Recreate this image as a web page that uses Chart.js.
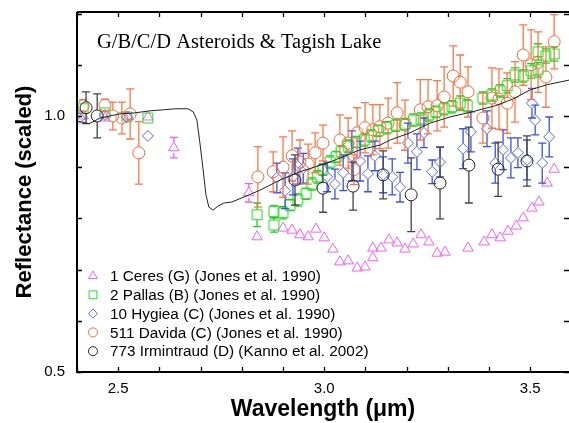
<!DOCTYPE html>
<html>
<head>
<meta charset="utf-8">
<title>G/B/C/D Asteroids & Tagish Lake</title>
<script src="https://cdn.jsdelivr.net/npm/chart.js@4.4.1/dist/chart.umd.min.js"></script>
<style>
    html, body { margin: 0; padding: 0; background: #fff; }
    #chart { display: block; }
</style>
</head>
<body>
<canvas id="chart" width="569" height="423"></canvas>
<script>
// Axis tick labels (only these are printed, other ticks are unlabeled)
const xTickLabels = ['2.5', '3.0', '3.5'];
const yTickLabels = ['0.5', '1.0'];

// Legend text
const legendLabels = [
    '1 Ceres (G) (Jones et al. 1990)',
    '2 Pallas (B) (Jones et al. 1990)',
    '10 Hygiea (C) (Jones et al. 1990)',
    '511 Davida (C) (Jones et al. 1990)',
    '773 Irmintraud (D) (Kanno et al. 2002)'
];

// 1 Ceres
const ceresX = [2.415, 2.468, 2.524, 2.572, 2.635, 2.817, 2.837, 2.900, 2.922, 2.941,
    2.961, 2.980, 3.000, 3.021, 3.038, 3.058, 3.080, 3.099, 3.118, 3.118,
    3.138, 3.157, 3.177, 3.196, 3.216, 3.235, 3.254, 3.274, 3.293, 3.349,
    3.388, 3.407, 3.427, 3.446, 3.466, 3.483, 3.504, 3.521, 3.541, 3.558];
const ceresY = [1.000, 0.996, 0.998, 0.998, 0.938, 0.850, 0.764, 0.781, 0.777, 0.768,
    0.764, 0.779, 0.762, 0.740, 0.715, 0.717, 0.703, 0.705, 0.723, 0.742,
    0.742, 0.758, 0.752, 0.740, 0.750, 0.768, 0.754, 0.732, 0.734, 0.742,
    0.754, 0.768, 0.762, 0.775, 0.785, 0.801, 0.820, 0.832, 0.869, 0.896];
const ceresErr = [0, 0, 0, 0, 0.020, 0.018, 0, 0, 0, 0,
    0, 0, 0, 0, 0, 0, 0, 0, 0, 0,
    0, 0, 0, 0, 0, 0, 0, 0, 0, 0,
    0, 0, 0, 0, 0, 0, 0, 0, 0, 0];

// 2 Pallas
const pallasX = [2.415, 2.468, 2.521, 2.572,
    2.837, 2.878, 2.878, 2.900, 2.917, 2.936, 2.956, 2.970, 2.983, 2.997,
    3.014, 3.029, 3.041, 3.058, 3.077, 3.097, 3.114, 3.131, 3.152, 3.174,
    3.196, 3.216, 3.235, 3.254, 3.271, 3.291, 3.310, 3.330, 3.347, 3.385,
    3.407, 3.427, 3.444, 3.463, 3.483, 3.502, 3.519, 3.519, 3.538, 3.558];
const pallasY = [1.014, 1.006, 0.998, 0.996,
    0.807, 0.813, 0.787, 0.811, 0.826, 0.836, 0.848, 0.867, 0.881, 0.895,
    0.910, 0.920, 0.930, 0.941, 0.949, 0.953, 0.961, 0.971, 0.977, 0.982,
    0.984, 0.992, 0.994, 1.002, 1.008, 1.014, 1.018, 1.025, 1.020, 1.035,
    1.041, 1.049, 1.059, 1.080, 1.078, 1.088, 1.090, 1.125, 1.117, 1.121];
const pallasErr = [0, 0, 0, 0,
    0.023, 0.012, 0.014, 0.012, 0.011, 0.012, 0.011, 0.012, 0.012, 0.011,
    0.012, 0.011, 0.012, 0.012, 0.011, 0.012, 0.012, 0.011, 0.012, 0.012,
    0.011, 0.012, 0.012, 0.012, 0.011, 0.012, 0.012, 0.014, 0.012, 0.012,
    0.012, 0.012, 0.014, 0.014, 0.012, 0.014, 0.014, 0.016, 0.014, 0.014];

// 10 Hygiea
const hygieaX = [2.407, 2.468, 2.521, 2.572,
    2.885, 2.905, 2.924, 2.936, 2.949, 3.007, 3.026, 3.046, 3.067, 3.087,
    3.106, 3.123, 3.143, 3.165, 3.184, 3.203, 3.225, 3.242, 3.262, 3.281,
    3.337, 3.356, 3.395, 3.415, 3.434, 3.453, 3.470, 3.492, 3.504, 3.512,
    3.529, 3.546];
const hygieaY = [0.996, 1.002, 0.998, 0.961,
    0.879, 0.854, 0.881, 0.902, 0.898, 0.881, 0.867, 0.889, 0.922, 0.912,
    0.887, 0.922, 0.885, 0.881, 0.861, 0.947, 0.930, 0.967, 0.891, 0.910,
    0.936, 0.969, 0.975, 0.908, 0.934, 0.918, 0.928, 0.914, 1.025, 0.992,
    0.908, 0.959];
const hygieaErr = [0, 0, 0, 0,
    0.029, 0.035, 0.035, 0.035, 0.029, 0.029, 0.029, 0.035, 0.049, 0.039,
    0.035, 0.029, 0.035, 0.035, 0.029, 0.039, 0.035, 0.029, 0.023, 0.029,
    0.039, 0.039, 0.035, 0.039, 0.039, 0.039, 0.029, 0.039, 0.029, 0.029,
    0.039, 0.039];

// 511 Davida
const davidaX = [2.415, 2.468, 2.487, 2.509, 2.529, 2.550,
    2.839, 2.876, 2.900, 2.922, 2.941, 2.961, 2.978, 2.997, 3.038, 3.058,
    3.072, 3.080, 3.099, 3.118, 3.135, 3.155, 3.177, 3.196, 3.233, 3.252,
    3.274, 3.291, 3.313, 3.330, 3.349, 3.385, 3.407, 3.424, 3.444, 3.463,
    3.483, 3.502, 3.519, 3.538, 3.558];
const davidaY = [1.020, 1.021, 1.000, 0.996, 1.004, 0.928,
    0.881, 0.891, 0.900, 0.922, 0.910, 0.906, 0.928, 0.947, 0.953, 0.947,
    0.895, 0.967, 0.977, 0.973, 0.979, 0.986, 1.006, 0.982, 1.012, 1.018,
    1.020, 1.037, 1.078, 1.066, 1.047, 0.996, 1.035, 1.033, 1.025, 1.047,
    1.119, 1.100, 1.105, 1.076, 1.145];
const davidaErr = [0.012, 0.012, 0.027, 0.031, 0.049, 0.061,
    0.059, 0.039, 0.059, 0.049, 0.043, 0.039, 0.039, 0.035, 0.049, 0.049,
    0.029, 0.049, 0.049, 0.049, 0.043, 0.049, 0.059, 0.049, 0.059, 0.053,
    0.049, 0.059, 0.059, 0.053, 0.049, 0.049, 0.059, 0.059, 0.059, 0.059,
    0.059, 0.068, 0.059, 0.059, 0.053];

// 773 Irmintraud
const irmintraudX = [2.422, 2.449, 2.929, 2.997, 3.070, 3.143, 3.211, 3.281, 3.351, 3.422, 3.492];
const irmintraudY = [1.016, 1.000, 0.875, 0.859, 0.863, 0.885, 0.846, 0.869, 0.904, 0.896, 0.912];
const irmintraudErr = [0.031, 0.043, 0.049, 0.047, 0.047, 0.047, 0.072, 0.070, 0.074, 0.053, 0.049];

// Tagish Lake meteorite spectrum
const tagishX = [2.400, 2.430, 2.456, 2.480, 2.504, 2.540, 2.577, 2.610, 2.638, 2.669,
    2.682, 2.691, 2.699, 2.706, 2.713, 2.720, 2.730, 2.742, 2.757, 2.776,
    2.800, 2.844, 2.893, 2.941, 3.014, 3.087, 3.135, 3.160, 3.208, 3.257,
    3.305, 3.349, 3.415, 3.458, 3.500, 3.541, 3.594];
const tagishY = [0.990, 0.985, 0.996, 1.000, 1.004, 1.006, 1.010, 1.012, 1.014, 1.014,
    1.008, 0.992, 0.943, 0.895, 0.846, 0.822, 0.816, 0.824, 0.830, 0.832,
    0.840, 0.855, 0.875, 0.891, 0.910, 0.934, 0.943, 0.953, 0.967, 0.986,
    0.998, 1.006, 1.020, 1.033, 1.051, 1.061, 1.070];

const sansFont = '"Liberation Sans", Arial, Helvetica, sans-serif';
const serifFont = '"Liberation Serif", "Times New Roman", serif';

function toPoints(xs, ys) {
    return xs.map((x, i) => ({ x: x, y: ys[i] }));
}

function isLabel(list, v) {
    return list.indexOf(v.toFixed(1)) !== -1;
}

// Keep the plot box fixed: no extra room reserved for edge tick labels
function fixBox(scale, size) {
    if (scale.isHorizontal()) scale.height = size; else scale.width = size;
    scale.paddingTop = 0;
    scale.paddingBottom = 0;
    scale.paddingLeft = 0;
    scale.paddingRight = 0;
}

// Marker series (the legend is built from these, in this order)
const markerSeries = [
    { label: legendLabels[0], data: toPoints(ceresX, ceresY), errors: ceresErr,
      pointStyle: 'triangle', pointRadius: 6, legendRadius: 5, color: '#f45ef4', errorColor: '#f060f0', gap: 5 },
    { label: legendLabels[1], data: toPoints(pallasX, pallasY), errors: pallasErr,
      pointStyle: 'rect', pointRadius: 7, legendRadius: 5.5, color: '#22e022', errorColor: '#22cc22', gap: 5 },
    { label: legendLabels[2], data: toPoints(hygieaX, hygieaY), errors: hygieaErr,
      pointStyle: 'rectRot', pointRadius: 5.5, legendRadius: 4.5, color: '#5064ff', errorColor: '#3a50ee', gap: 5.5 },
    { label: legendLabels[3], data: toPoints(davidaX, davidaY), errors: davidaErr,
      pointStyle: 'circle', pointRadius: 6, legendRadius: 4.5, color: '#ff6633', errorColor: '#ff7744', gap: 6 },
    { label: legendLabels[4], data: toPoints(irmintraudX, irmintraudY), errors: irmintraudErr,
      pointStyle: 'circle', pointRadius: 6, legendRadius: 4.5, color: '#222222', errorColor: '#444444', gap: 6 }
];

// Error bars, drawn just before each dataset's own markers
const errorBarPlugin = {
    id: 'errorBars',
    beforeDatasetDraw(chart, args) {
        const ds = chart.data.datasets[args.index];
        if (!ds.errors) return;
        const ctx = chart.ctx;
        const xs = chart.scales.x;
        const ys = chart.scales.y;
        const area = chart.chartArea;
        ctx.save();
        ctx.beginPath();
        ctx.rect(area.left, area.top, area.right - area.left, area.bottom - area.top);
        ctx.clip();
        ctx.strokeStyle = ds.errorColor;
        ctx.lineWidth = 1.3;
        ds.data.forEach((p, i) => {
            const e = ds.errors[i];
            if (!e) return;
            const px = xs.getPixelForValue(p.x);
            const py = ys.getPixelForValue(p.y);
            const lo = ys.getPixelForValue(p.y - e);
            const hi = ys.getPixelForValue(p.y + e);
            ctx.beginPath();
            if (hi < py - ds.gap) {
                ctx.moveTo(px, py - ds.gap);
                ctx.lineTo(px, hi);
            }
            if (lo > py + ds.gap) {
                ctx.moveTo(px, py + ds.gap);
                ctx.lineTo(px, lo);
            }
            ctx.moveTo(px - 4, hi); ctx.lineTo(px + 4, hi);
            ctx.moveTo(px - 4, lo); ctx.lineTo(px + 4, lo);
            ctx.stroke();
        });
        ctx.restore();
    }
};

// Frame with inward tick marks on all four sides
const framePlugin = {
    id: 'frame',
    afterDatasetsDraw(chart) {
        const ctx = chart.ctx;
        const { left, right, top, bottom } = chart.chartArea;
        const xs = chart.scales.x;
        const ys = chart.scales.y;
        ctx.save();
        ctx.strokeStyle = '#000';
        ctx.lineWidth = 1.3;
        ctx.beginPath();
        xs.ticks.forEach(t => {
            const px = Math.round(xs.getPixelForValue(t.value)) + 0.5;
            ctx.moveTo(px, bottom); ctx.lineTo(px, bottom - 5);
            ctx.moveTo(px, top); ctx.lineTo(px, top + 5);
        });
        ys.ticks.forEach(t => {
            const py = Math.round(ys.getPixelForValue(t.value)) + 0.5;
            ctx.moveTo(left, py); ctx.lineTo(left + 5, py);
            ctx.moveTo(right, py); ctx.lineTo(right - 5, py);
        });
        ctx.stroke();

        ctx.lineWidth = 2;
        ctx.beginPath();
        ctx.moveTo(left, top);
        ctx.lineTo(left, bottom);
        ctx.lineTo(right, bottom);
        ctx.moveTo(left, top);
        ctx.lineTo(right, top);
        ctx.stroke();
        ctx.restore();
    }
};

// Title text and legend inside the plot area
const annotationPlugin = {
    id: 'annotations',
    afterDraw(chart) {
        const ctx = chart.ctx;
        const area = chart.chartArea;
        ctx.save();
        ctx.fillStyle = '#000';
        ctx.font = '20.5px ' + serifFont;
        ctx.textBaseline = 'alphabetic';
        ctx.textAlign = 'left';
        ctx.fillText('G/B/C/D Asteroids & Tagish Lake', area.left + 20, area.top + 36);

        ctx.font = '15.3px ' + sansFont;
        ctx.textBaseline = 'middle';
        markerSeries.forEach((s, i) => {
            const y = area.top + 264 + i * 18.8;
            const mx = area.left + 16;
            ctx.strokeStyle = s.color;
            ctx.fillStyle = 'rgba(0,0,0,0)';
            ctx.lineWidth = 1;
            Chart.helpers.drawPoint(ctx, {
                pointStyle: s.pointStyle,
                radius: s.legendRadius,
                rotation: 0,
                borderWidth: 1
            }, mx, y);
            ctx.fillStyle = '#000';
            ctx.fillText(s.label, area.left + 33, y + 1);
        });
        ctx.restore();
    }
};

const datasets = [{
    label: 'Tagish Lake',
    data: toPoints(tagishX, tagishY),
    showLine: true,
    borderColor: '#222',
    borderWidth: 1,
    pointRadius: 0,
    tension: 0
}].concat(markerSeries.slice().reverse().map(s => ({
    label: s.label,
    data: s.data,
    errors: s.errors,
    errorColor: s.errorColor,
    gap: s.gap,
    pointStyle: s.pointStyle,
    pointRadius: s.pointRadius,
    pointBorderColor: s.color,
    pointBackgroundColor: 'rgba(0,0,0,0)',
    pointBorderWidth: 1,
    showLine: false
})));

const chart = new Chart(document.getElementById('chart'), {
    type: 'scatter',
    data: { datasets: datasets },
    plugins: [errorBarPlugin, framePlugin, annotationPlugin],
    options: {
        responsive: false,
        animation: false,
        devicePixelRatio: 1,
        layout: { autoPadding: false, padding: { top: 12, right: 0, bottom: 0, left: 0 } },
        plugins: {
            legend: { display: false },
            tooltip: { enabled: false }
        },
        scales: {
            x: {
                type: 'linear',
                min: 2.4,
                max: 3.594,
                grid: { display: false, drawTicks: false },
                border: { display: false },
                ticks: {
                    stepSize: 0.1,
                    includeBounds: false,
                    autoSkip: false,
                    maxRotation: 0,
                    padding: 8,
                    color: '#000',
                    font: { family: sansFont, size: 15 },
                    callback: v => isLabel(xTickLabels, v) ? v.toFixed(1) : ''
                },
                title: {
                    display: true,
                    text: 'Wavelength (μm)',
                    color: '#000',
                    font: { family: sansFont, size: 23, weight: 'bold' },
                    padding: { top: 0, bottom: 0 }
                },
                afterFit: scale => fixBox(scale, 51)
            },
            y: {
                type: 'linear',
                min: 0.5,
                max: 1.203,
                grid: { display: false, drawTicks: false },
                border: { display: false },
                ticks: {
                    stepSize: 0.1,
                    includeBounds: false,
                    autoSkip: false,
                    padding: 12,
                    color: '#000',
                    font: { family: sansFont, size: 15 },
                    callback: v => isLabel(yTickLabels, v) ? v.toFixed(1) : ''
                },
                title: {
                    display: true,
                    text: 'Reflectance (scaled)',
                    color: '#000',
                    font: { family: sansFont, size: 22, weight: 'bold' },
                    padding: { top: 12, bottom: 0 }
                },
                afterFit: scale => fixBox(scale, 77)
            }
        }
    }
});
</script>
</body>
</html>
